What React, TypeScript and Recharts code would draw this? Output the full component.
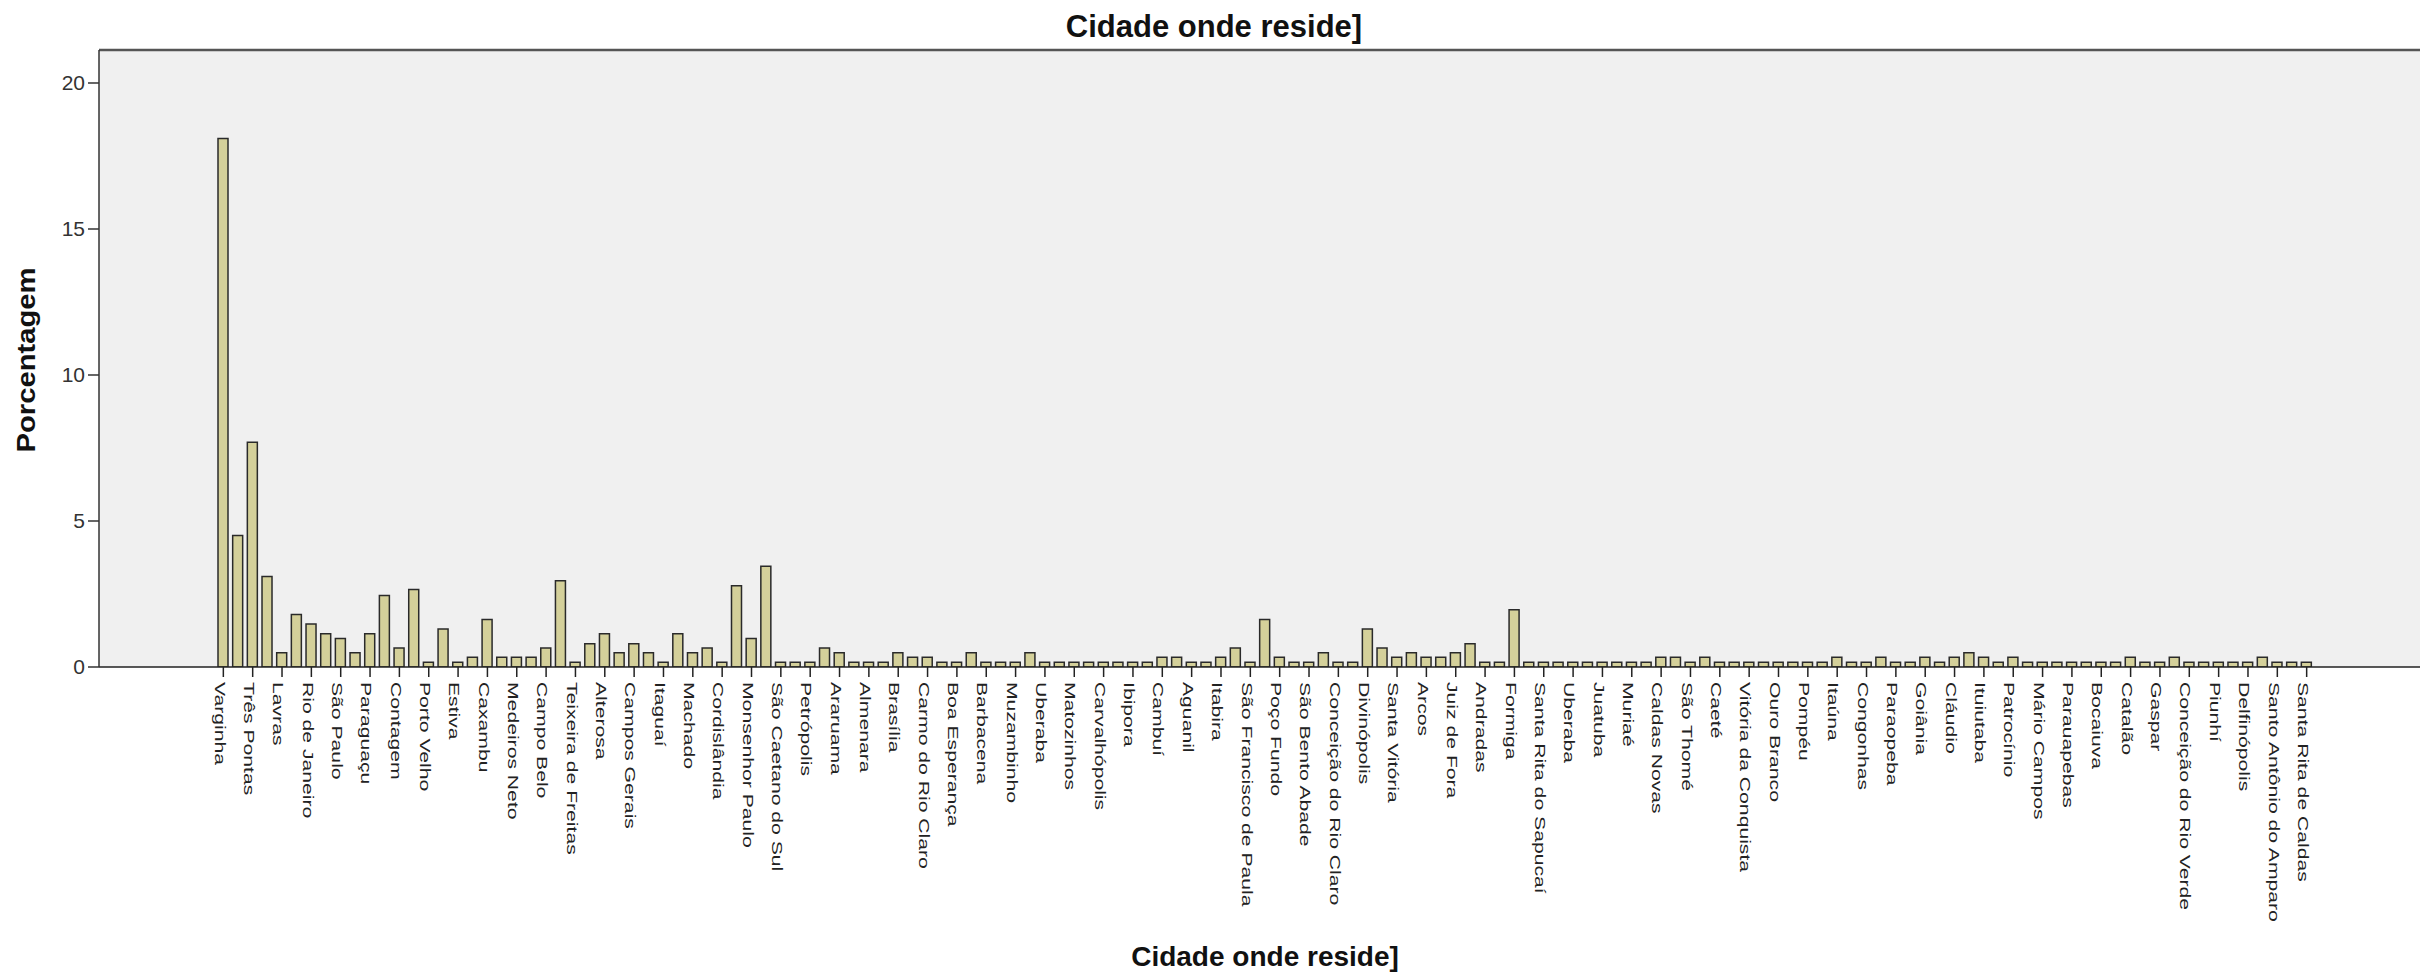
import { BarChart, Bar, XAxis, YAxis, CartesianGrid, ReferenceLine } from 'recharts';

// rótulos visíveis: um a cada duas barras (SPSS omite os intermediários)
const cityLabels = [
  'Varginha', 'Três Pontas', 'Lavras', 'Rio de Janeiro', 'São Paulo', 'Paraguaçu',
  'Contagem', 'Porto Velho', 'Estiva', 'Caxambu', 'Medeiros Neto', 'Campo Belo',
  'Teixeira de Freitas', 'Alterosa', 'Campos Gerais', 'Itaguaí', 'Machado', 'Cordislândia',
  'Monsenhor Paulo', 'São Caetano do Sul', 'Petrópolis', 'Araruama', 'Almenara', 'Brasília',
  'Carmo do Rio Claro', 'Boa Esperança', 'Barbacena', 'Muzambinho', 'Uberaba', 'Matozinhos',
  'Carvalhópolis', 'Ibipora', 'Cambuí', 'Aguanil', 'Itabira', 'São Francisco de Paula',
  'Poço Fundo', 'São Bento Abade', 'Conceição do Rio Claro', 'Divinópolis', 'Santa Vitória', 'Arcos',
  'Juiz de Fora', 'Andradas', 'Formiga', 'Santa Rita do Sapucaí', 'Uberaba', 'Juatuba',
  'Muriaé', 'Caldas Novas', 'São Thomé', 'Caeté', 'Vitória da Conquista', 'Ouro Branco',
  'Pompéu', 'Itaúna', 'Congonhas', 'Paraopeba', 'Goiânia', 'Cláudio',
  'Ituiutaba', 'Patrocínio', 'Mário Campos', 'Parauapebas', 'Bocaiuva', 'Catalão',
  'Gaspar', 'Conceição do Rio Verde', 'Piunhí', 'Delfinópolis', 'Santo Antônio do Amparo', 'Santa Rita de Caldas',
];

// porcentagem por barra (143 barras)
const percentages = [
  18.1, 4.5, 7.7, 3.1, 0.49, 1.8, 1.47, 1.14, 0.98, 0.49,
  1.14, 2.45, 0.65, 2.65, 0.16, 1.3, 0.16, 0.33, 1.63, 0.33,
  0.33, 0.33, 0.65, 2.95, 0.16, 0.8, 1.14, 0.49, 0.8, 0.49,
  0.16, 1.14, 0.49, 0.65, 0.16, 2.78, 0.98, 3.45, 0.16, 0.16,
  0.16, 0.65, 0.49, 0.16, 0.16, 0.16, 0.49, 0.33, 0.33, 0.16,
  0.16, 0.49, 0.16, 0.16, 0.16, 0.49, 0.16, 0.16, 0.16, 0.16,
  0.16, 0.16, 0.16, 0.16, 0.33, 0.33, 0.16, 0.16, 0.33, 0.65,
  0.16, 1.63, 0.33, 0.16, 0.16, 0.49, 0.16, 0.16, 1.3, 0.65,
  0.33, 0.49, 0.33, 0.33, 0.49, 0.8, 0.16, 0.16, 1.96, 0.16,
  0.16, 0.16, 0.16, 0.16, 0.16, 0.16, 0.16, 0.16, 0.33, 0.33,
  0.16, 0.33, 0.16, 0.16, 0.16, 0.16, 0.16, 0.16, 0.16, 0.16,
  0.33, 0.16, 0.16, 0.33, 0.16, 0.16, 0.33, 0.16, 0.33, 0.49,
  0.33, 0.16, 0.33, 0.16, 0.16, 0.16, 0.16, 0.16, 0.16, 0.16,
  0.33, 0.16, 0.16, 0.33, 0.16, 0.16, 0.16, 0.16, 0.16, 0.33,
  0.16, 0.16, 0.16,
];

const yTicks = [0, 5, 10, 15, 20];
const Y_MAX = 21.13;

const data = percentages.map((value, idx) => ({ idx, value }));

const FONT = '"Liberation Sans", Arial, sans-serif';

function CityTick({ x, y, payload }: any) {
  const label = payload.value % 2 === 0 ? cityLabels[payload.value / 2] : '';
  return (
    <g transform={`translate(${x},${y})`}>
      <text
        transform="rotate(90) scale(1.46,1)"
        x={0}
        y={4}
        textAnchor="start"
        dominantBaseline="central"
        fontSize={14.5}
        fontFamily={FONT}
        fill="#222"
      >
        {label}
      </text>
    </g>
  );
}

export default function App() {
  return (
    <div style={{ position: 'absolute', left: 0, top: 0, width: 2420, height: 977, background: '#fff' }}>
      <BarChart
        width={2420}
        height={977}
        data={data}
        margin={{ top: 50, right: 0, left: 39, bottom: 0 }}
        barSize={10}
      >
        <CartesianGrid fill="#f0f0f0" horizontal={false} vertical={false} />
        <XAxis
          dataKey="idx"
          type="category"
          interval={1}
          height={310}
          padding={{ left: 117, right: 106 }}
          tick={<CityTick />}
          tickSize={10}
          tickMargin={5}
          tickLine={{ stroke: '#222', strokeWidth: 1.5 }}
          axisLine={{ stroke: '#222', strokeWidth: 1.5 }}
        />
        <YAxis
          width={60}
          domain={[0, Y_MAX]}
          ticks={yTicks}
          allowDataOverflow
          tickSize={11}
          tickMargin={3}
          tick={{ fontSize: 21, fill: '#333', fontFamily: FONT }}
          tickLine={{ stroke: '#333', strokeWidth: 1.5 }}
          axisLine={{ stroke: '#333', strokeWidth: 1.5 }}
        />
        <ReferenceLine y={Y_MAX} stroke="#555" strokeWidth={2.5} />
        <Bar
          dataKey="value"
          fill="#d4d09a"
          stroke="#2a2a2a"
          strokeWidth={1.5}
          isAnimationActive={false}
        />
      </BarChart>
      <svg
        width={2420}
        height={977}
        style={{ position: 'absolute', left: 0, top: 0, pointerEvents: 'none' }}
      >
        <text x={1214} y={37} textAnchor="middle" fontSize={31} fontWeight="bold" fontFamily={FONT} fill="#111">
          Cidade onde reside]
        </text>
        <text x={1265} y={966} textAnchor="middle" fontSize={28} fontWeight="bold" fontFamily={FONT} fill="#111">
          Cidade onde reside]
        </text>
        <text
          x={35}
          y={360}
          transform="rotate(-90 35 360)"
          textAnchor="middle"
          fontSize={25}
          fontWeight="bold"
          fontFamily={FONT}
          fill="#111"
          textLength={185}
          lengthAdjust="spacingAndGlyphs"
        >
          Porcentagem
        </text>
      </svg>
    </div>
  );
}
